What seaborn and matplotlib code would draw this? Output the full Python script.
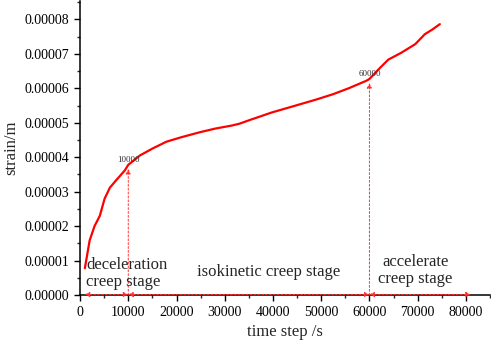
import matplotlib
matplotlib.use("Agg")
import matplotlib.pyplot as plt
import seaborn as sns
import numpy as np
import pandas as pd
from matplotlib.ticker import MultipleLocator, FormatStrFormatter

time_s = [1000, 2000, 3000, 4100, 5100, 6200, 7600, 9300, 10000, 12400, 15000, 17900,
          21000, 24700, 28000, 31500, 33000, 35000, 39800, 44000, 48900, 52500, 55700,
          59400, 60000, 61900, 63900, 66600, 69500, 71500, 73000, 74600]
strain = [0.0000078, 0.0000159, 0.0000200, 0.0000230, 0.0000280, 0.0000312, 0.0000335, 0.0000362,
          0.0000378, 0.0000405, 0.0000425, 0.0000445, 0.0000458, 0.0000472, 0.0000483, 0.0000492,
          0.0000497, 0.0000507, 0.0000530, 0.0000547, 0.0000567, 0.0000583, 0.0000600,
          0.0000622, 0.0000627, 0.0000655, 0.0000683, 0.0000703, 0.0000728, 0.0000757, 0.0000770, 0.0000786]

stage_bounds = [1000, 10000, 60000, 81000]
marks = [10000, 60000]
mark_strain = [0.0000378, 0.0000627]

sns.set_style("ticks")
plt.rcParams['font.family'] = ['Liberation Serif', 'DejaVu Serif']

fig = plt.figure(figsize=(4.91, 3.46), dpi=100)
ax = fig.add_axes([0.163, 0.147, 0.835, 0.85])

df = pd.DataFrame({"t": time_s, "s": strain})
sns.lineplot(data=df, x="t", y="s", ax=ax, color="#ff0000", linewidth=1.6)

ax.set_xlim(0, 85000)
ax.set_ylim(0, 0.0000853)
ax.xaxis.set_major_locator(MultipleLocator(10000))
ax.xaxis.set_minor_locator(MultipleLocator(5000))
ax.yaxis.set_major_locator(MultipleLocator(0.00001))
ax.yaxis.set_minor_locator(MultipleLocator(0.000005))
ax.yaxis.set_major_formatter(FormatStrFormatter('%.5f'))
ax.tick_params(which='major', direction='out', length=4, width=1, labelsize=10, colors='black')
ax.tick_params(which='minor', direction='out', length=2.5, width=1)
for s in ['top', 'right']:
    ax.spines[s].set_visible(False)
for s in ['left', 'bottom']:
    ax.spines[s].set_linewidth(1.1)
    ax.spines[s].set_color('black')

ax.set_xlabel("time step /s", fontsize=12)
ax.set_ylabel("strain/m", fontsize=12)

# stage arrows along the bottom
yb = 0.0000002
for a, b in zip(stage_bounds[:-1], stage_bounds[1:]):
    ax.annotate("", xy=(b, yb), xytext=(a, yb),
                arrowprops=dict(arrowstyle="<|-|>", color="#ff3030", lw=0.7, ls=(0, (2, 2)),
                                mutation_scale=7, shrinkA=0, shrinkB=0))

# vertical markers
for m, s in zip(marks, mark_strain):
    ax.annotate("", xy=(m, s - 0.0000012), xytext=(m, 0),
                arrowprops=dict(arrowstyle="-|>", color="#ff3030", lw=0.7, ls=(0, (2, 2)),
                                mutation_scale=7, shrinkA=0, shrinkB=0))
    ax.text(m, s + 0.0000003, str(m), fontsize=6.5, ha='center', va='bottom', color='#333333')

ax.text(1300, 0.0000063, "deceleration\ncreep stage", fontsize=12, ha='left', va='center', linespacing=1.1)
ax.text(39000, 0.0000066, "isokinetic creep stage", fontsize=12, ha='center', va='center')
ax.text(69500, 0.0000071, "accelerate\ncreep stage", fontsize=12, ha='center', va='center', linespacing=1.1)

fig.savefig("out.png", dpi=100)
